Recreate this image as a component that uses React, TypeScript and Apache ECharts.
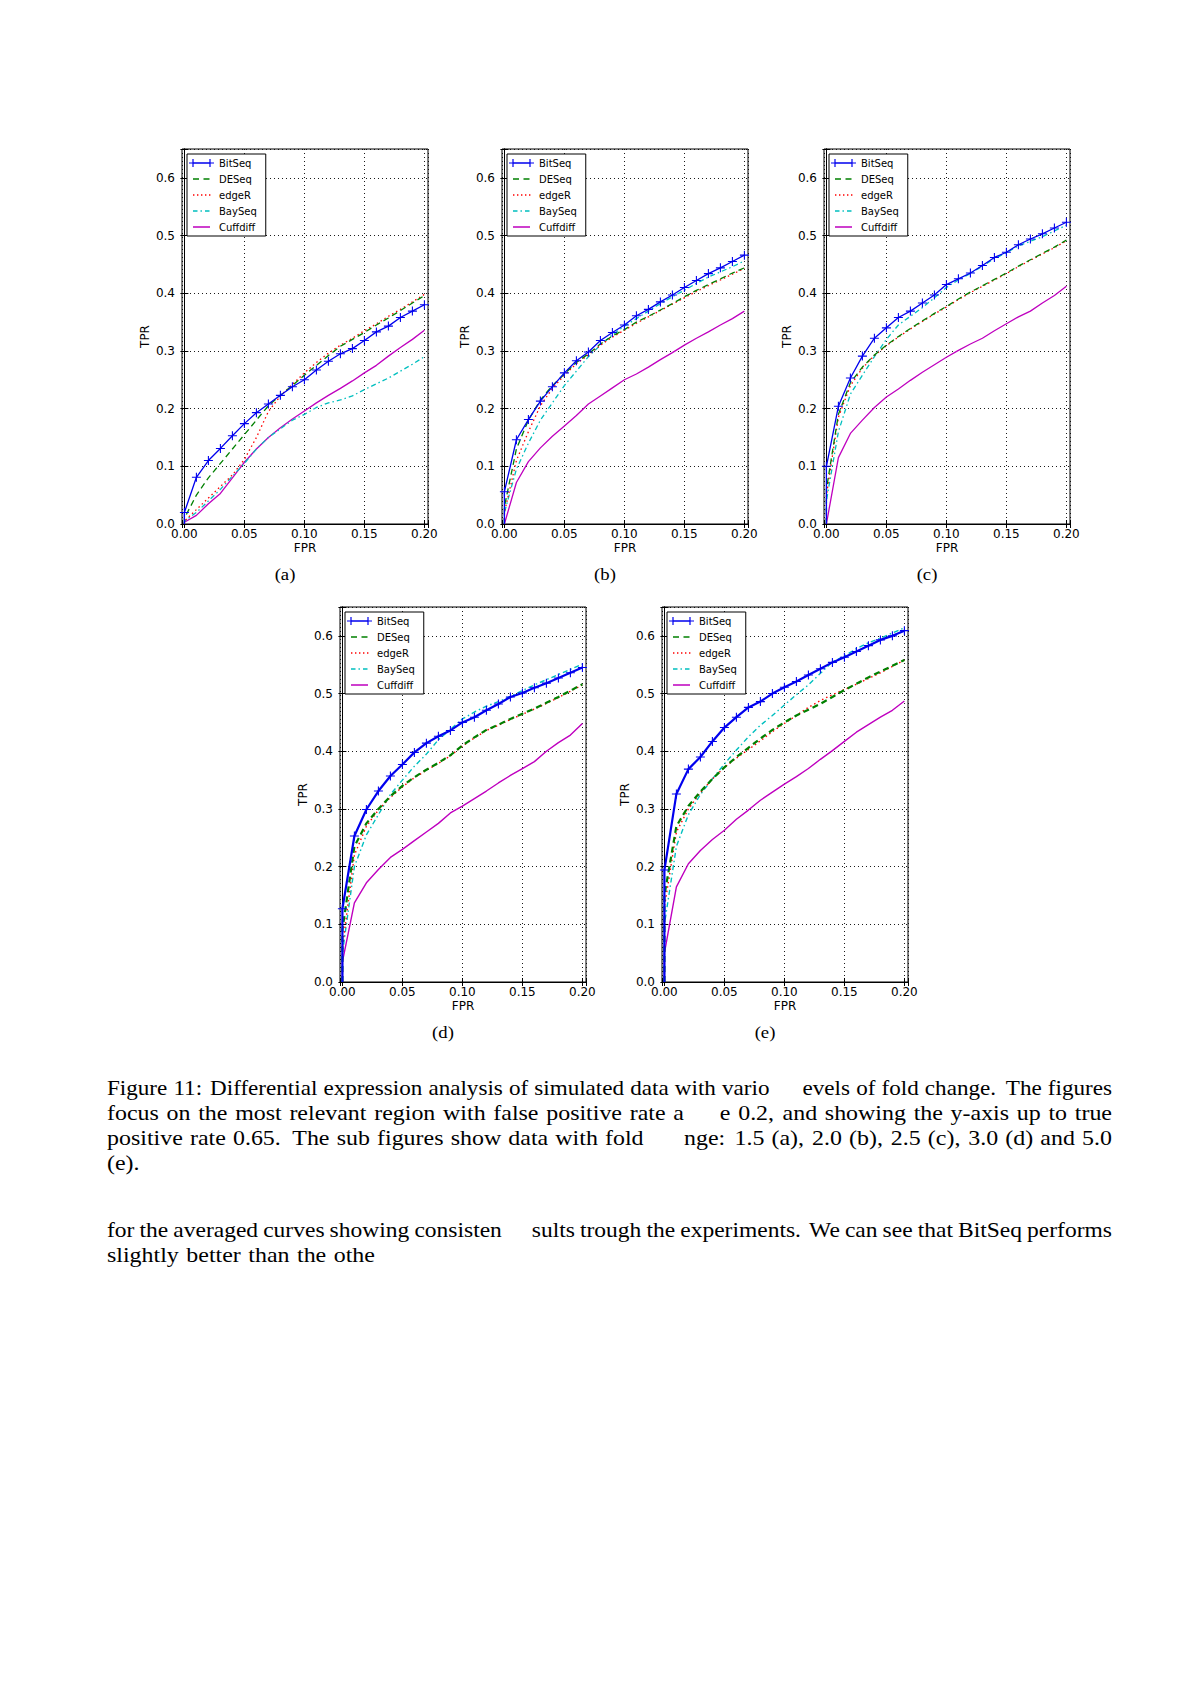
import React, { useEffect, useRef } from "react";
import * as echarts from "echarts";

// ---------- data ----------
const SERIES_NAMES = ["BitSeq", "DESeq", "edgeR", "BaySeq", "Cuffdiff"];
const FPR = [0, 0.01, 0.02, 0.03, 0.04, 0.05, 0.06, 0.07, 0.08, 0.09, 0.1, 0.11, 0.12, 0.13, 0.14, 0.15, 0.16, 0.17, 0.18, 0.19, 0.2];
const X_TICKS = [0, 0.05, 0.1, 0.15, 0.2];
const Y_TICKS = [0, 0.1, 0.2, 0.3, 0.4, 0.5, 0.6];

// (a) fold change 1.5
const A_BitSeq = [0.020, 0.081, 0.110, 0.131, 0.153, 0.174, 0.193, 0.208, 0.223, 0.238, 0.250, 0.267, 0.282, 0.295, 0.304, 0.318, 0.333, 0.343, 0.358, 0.369, 0.380];
const A_DESeq = [0.010, 0.050, 0.080, 0.105, 0.130, 0.155, 0.180, 0.205, 0.223, 0.240, 0.258, 0.275, 0.292, 0.308, 0.320, 0.332, 0.345, 0.357, 0.370, 0.383, 0.396];
const A_edgeR = [0.005, 0.025, 0.045, 0.065, 0.085, 0.112, 0.150, 0.195, 0.222, 0.242, 0.262, 0.280, 0.296, 0.310, 0.322, 0.335, 0.347, 0.360, 0.372, 0.385, 0.398];
const A_BaySeq = [0.005, 0.020, 0.040, 0.060, 0.083, 0.105, 0.130, 0.150, 0.165, 0.180, 0.190, 0.202, 0.210, 0.215, 0.222, 0.233, 0.243, 0.253, 0.265, 0.277, 0.290];
const A_Cuffdiff = [0.003, 0.015, 0.035, 0.053, 0.080, 0.107, 0.130, 0.150, 0.167, 0.182, 0.196, 0.210, 0.223, 0.235, 0.248, 0.262, 0.275, 0.291, 0.306, 0.320, 0.336];

// (b) fold change 2.0
const B_BitSeq = [0.056, 0.146, 0.181, 0.213, 0.238, 0.262, 0.283, 0.298, 0.318, 0.332, 0.345, 0.361, 0.372, 0.385, 0.397, 0.410, 0.422, 0.434, 0.444, 0.455, 0.466];
const B_DESeq = [0.030, 0.130, 0.180, 0.215, 0.240, 0.260, 0.280, 0.295, 0.312, 0.326, 0.337, 0.350, 0.360, 0.371, 0.382, 0.394, 0.405, 0.415, 0.425, 0.435, 0.444];
const B_edgeR = [0.020, 0.110, 0.160, 0.205, 0.235, 0.258, 0.278, 0.293, 0.310, 0.324, 0.336, 0.348, 0.359, 0.370, 0.381, 0.392, 0.403, 0.413, 0.423, 0.433, 0.443];
const B_BaySeq = [0.020, 0.095, 0.140, 0.180, 0.210, 0.240, 0.265, 0.290, 0.310, 0.328, 0.343, 0.356, 0.369, 0.382, 0.394, 0.405, 0.417, 0.428, 0.437, 0.446, 0.456];
const B_Cuffdiff = [0.000, 0.072, 0.108, 0.132, 0.152, 0.170, 0.188, 0.208, 0.222, 0.236, 0.250, 0.260, 0.272, 0.285, 0.297, 0.310, 0.322, 0.333, 0.345, 0.356, 0.369];

// (c) fold change 2.5
const C_BitSeq = [0.100, 0.204, 0.253, 0.291, 0.322, 0.340, 0.358, 0.369, 0.383, 0.397, 0.415, 0.425, 0.435, 0.448, 0.462, 0.471, 0.484, 0.494, 0.503, 0.513, 0.523];
const C_DESeq = [0.060, 0.190, 0.245, 0.272, 0.293, 0.310, 0.325, 0.339, 0.352, 0.365, 0.377, 0.390, 0.402, 0.413, 0.424, 0.435, 0.447, 0.458, 0.469, 0.480, 0.492];
const C_edgeR = [0.050, 0.185, 0.240, 0.270, 0.292, 0.309, 0.324, 0.338, 0.351, 0.364, 0.376, 0.389, 0.401, 0.412, 0.423, 0.434, 0.446, 0.457, 0.468, 0.479, 0.491];
const C_BaySeq = [0.040, 0.160, 0.225, 0.258, 0.290, 0.320, 0.345, 0.360, 0.375, 0.392, 0.410, 0.423, 0.434, 0.447, 0.460, 0.470, 0.482, 0.490, 0.498, 0.508, 0.518];
const C_Cuffdiff = [0.000, 0.115, 0.157, 0.180, 0.202, 0.220, 0.234, 0.249, 0.263, 0.276, 0.289, 0.301, 0.312, 0.322, 0.335, 0.347, 0.359, 0.369, 0.383, 0.396, 0.412];

// (d) fold change 3.0
const D_BitSeq = [0.127, 0.253, 0.299, 0.331, 0.357, 0.377, 0.398, 0.414, 0.426, 0.436, 0.450, 0.459, 0.471, 0.482, 0.494, 0.501, 0.510, 0.518, 0.527, 0.536, 0.545];
const D_DESeq = [0.090, 0.235, 0.275, 0.300, 0.322, 0.340, 0.355, 0.368, 0.380, 0.393, 0.410, 0.424, 0.437, 0.446, 0.456, 0.465, 0.474, 0.484, 0.494, 0.505, 0.516];
const D_edgeR = [0.060, 0.220, 0.270, 0.298, 0.320, 0.338, 0.354, 0.367, 0.379, 0.392, 0.409, 0.423, 0.436, 0.445, 0.455, 0.464, 0.473, 0.483, 0.493, 0.504, 0.515];
const D_BaySeq = [0.050, 0.200, 0.255, 0.290, 0.325, 0.350, 0.374, 0.395, 0.420, 0.438, 0.456, 0.468, 0.478, 0.486, 0.495, 0.505, 0.515, 0.524, 0.533, 0.542, 0.551];
const D_Cuffdiff = [0.035, 0.137, 0.172, 0.195, 0.216, 0.230, 0.245, 0.260, 0.275, 0.293, 0.305, 0.318, 0.331, 0.345, 0.358, 0.370, 0.382, 0.400, 0.415, 0.428, 0.448];

// (e) fold change 5.0
const E_BitSeq = [0.194, 0.326, 0.369, 0.390, 0.417, 0.441, 0.459, 0.476, 0.486, 0.500, 0.511, 0.521, 0.532, 0.543, 0.554, 0.563, 0.573, 0.583, 0.593, 0.600, 0.609];
const E_DESeq = [0.150, 0.270, 0.305, 0.330, 0.352, 0.372, 0.390, 0.406, 0.422, 0.437, 0.450, 0.462, 0.472, 0.482, 0.494, 0.506, 0.517, 0.528, 0.538, 0.548, 0.558];
const E_edgeR = [0.130, 0.260, 0.300, 0.328, 0.352, 0.372, 0.388, 0.403, 0.418, 0.434, 0.448, 0.462, 0.476, 0.488, 0.498, 0.507, 0.516, 0.526, 0.536, 0.547, 0.558];
const E_BaySeq = [0.100, 0.235, 0.290, 0.325, 0.352, 0.378, 0.402, 0.425, 0.445, 0.462, 0.480, 0.498, 0.515, 0.535, 0.555, 0.565, 0.578, 0.588, 0.596, 0.605, 0.614];
const E_Cuffdiff = [0.050, 0.165, 0.205, 0.228, 0.247, 0.263, 0.282, 0.298, 0.315, 0.329, 0.343, 0.356, 0.370, 0.386, 0.401, 0.417, 0.433, 0.446, 0.459, 0.471, 0.487];

const PANEL_LABELS = ["(a)", "(b)", "(c)", "(d)", "(e)"];
const PANEL_DATA = [
  [A_BitSeq, A_DESeq, A_edgeR, A_BaySeq, A_Cuffdiff],
  [B_BitSeq, B_DESeq, B_edgeR, B_BaySeq, B_Cuffdiff],
  [C_BitSeq, C_DESeq, C_edgeR, C_BaySeq, C_Cuffdiff],
  [D_BitSeq, D_DESeq, D_edgeR, D_BaySeq, D_Cuffdiff],
  [E_BitSeq, E_DESeq, E_edgeR, E_BaySeq, E_Cuffdiff],
];

// Caption text; parts in [brackets] are blanked out in the page (only their space is kept)
const CAPTION_LINES = [
  "Figure 11: Differential expression analysis of simulated data with vario[us l]evels of fold change. The figures",
  "focus on the most relevant region with false positive rate a[bov]e 0.2, and showing the y-axis up to true",
  "positive rate 0.65. The sub figures show data with fold [cha]nge: 1.5 (a), 2.0 (b), 2.5 (c), 3.0 (d) and 5.0",
  "(e).",
];
const BODY_LINES = [
  "for the averaged curves showing consisten[t re]sults trough the experiments. We can see that BitSeq performs",
  "slightly better than the othe",
];

// ---------- layout & style ----------
const PANEL_POS = [
  { left: 182, top: 149 },
  { left: 502, top: 149 },
  { left: 824, top: 149 },
  { left: 340, top: 607 },
  { left: 662, top: 607 },
];
const PW = 246;
const PH = 375;
const X_MIN = -0.002;
const X_MAX = 0.203;
const Y_MIN = 0;
const Y_MAX = 0.65;

const PLUS = "path://M0,4.4H10V5.6H0Z M4.4,0H5.6V10H4.4Z";
const SANS = "'DejaVu Sans', sans-serif";
const SERIF_NAME = "Liberation Serif";
const CAP_SIZE = 21;
const CAPTION_SX = [1.1, 1.14, 1.14, 1.14];
const BODY_SX = [1.12, 1.14];

// legend icons: 25 x 12 box (tiny corner squares fix the box)
const BOX = "M0,0h0.01v0.01h-0.01Z M24.99,11.99h0.01v0.01h-0.01Z ";
const LEGEND_ICONS = [
  "path://" + BOX + "M4,5.35H21V6.65H4Z M0,5.4H8V6.6H0Z M3.4,2H4.6V10H3.4Z M17,5.4H25V6.6H17Z M20.4,2H21.6V10H20.4Z",
  "path://" + BOX + "M4,5.3H10V6.7H4Z M14.5,5.3H20.5V6.7H14.5Z",
  "path://" + BOX + "M4,5.3h1.4v1.4h-1.4Z M8,5.3h1.4v1.4h-1.4Z M12,5.3h1.4v1.4h-1.4Z M16,5.3h1.4v1.4h-1.4Z M20,5.3h1.4v1.4h-1.4Z",
  "path://" + BOX + "M4,5.3H8.5V6.7H4Z M11.5,5.3h1.4v1.4h-1.4Z M16,5.3H20.5V6.7H16Z",
  "path://" + BOX + "M4,5.35H21V6.65H4Z",
];

const STYLES = [
  { color: "#0000ee", type: "solid" as any },
  { color: "#008000", type: [6, 4] as any },
  { color: "#ff0000", type: [1.5, 3] as any },
  { color: "#00bfbf", type: [5, 3, 1.5, 3] as any },
  { color: "#bf00bf", type: "solid" as any },
];

// justified text layout, one text element per visible word part
function layoutLine(spec: string, x0: number, x1: number, y: number, justify: boolean, ctx: CanvasRenderingContext2D, font: string, sx: number) {
  const chars: { c: string; h: boolean }[] = [];
  let hidden = false;
  for (const ch of spec) {
    if (ch === "[") { hidden = true; continue; }
    if (ch === "]") { hidden = false; continue; }
    chars.push({ c: ch, h: hidden });
  }
  const words: { c: string; h: boolean }[][] = [];
  let cur: { c: string; h: boolean }[] = [];
  for (const o of chars) {
    if (o.c === " ") { if (cur.length) words.push(cur); cur = []; } else cur.push(o);
  }
  if (cur.length) words.push(cur);
  const str = (w: { c: string }[]) => w.map((o) => o.c).join("");
  const mw = (s: string) => ctx.measureText(s).width * sx;
  const widths = words.map((w) => mw(str(w)));
  const total = widths.reduce((a, b) => a + b, 0);
  const weightOf = (w: { c: string }[]) => {
    const last = w[w.length - 1].c;
    if (last === "." && str(w).length > 2) return 1.6;
    if (last === ":") return 1.3;
    if (last === ",") return 1.1;
    return 1;
  };
  let wsum = 0;
  for (let i = 0; i < words.length - 1; i++) wsum += weightOf(words[i]);
  const space = mw(" ") * 1.25;
  const unit = justify && wsum > 0 ? (x1 - x0 - total) / wsum : space;
  const out: any[] = [];
  let x = x0;
  words.forEach((w, i) => {
    let k = 0;
    while (k < w.length) {
      if (w[k].h) { k++; continue; }
      let j = k;
      while (j < w.length && !w[j].h) j++;
      const prefix = str(w.slice(0, k));
      const run = str(w.slice(k, j));
      out.push({
        type: "text",
        x: x + (prefix ? mw(prefix) : 0),
        y,
        scaleX: sx,
        silent: true,
        style: { text: run, font, fill: "#000", align: "left", verticalAlign: "middle", textAlign: "left", textVerticalAlign: "middle" },
      });
      k = j;
    }
    x += widths[i] + unit * (i < words.length - 1 ? weightOf(w) : 0);
  });
  return out;
}

function buildOption() {
  const grid: any[] = [];
  const xAxis: any[] = [];
  const yAxis: any[] = [];
  const series: any[] = [];
  const legend: any[] = [];
  const graphic: any[] = [];

  const tickCommon = { show: true, inside: true, length: 4, lineStyle: { color: "#000", width: 1 } };
  const lineCommon = { show: true, lineStyle: { color: "#000", width: 1 } };
  const splitCommon = { show: true, lineStyle: { color: "#000", width: 0.9, type: [1, 3] } };

  PANEL_POS.forEach((p, i) => {
    const thick = i >= 3;
    grid.push({ left: p.left, top: p.top, width: PW, height: PH, show: true, borderColor: "#000", borderWidth: 1 });
    xAxis.push({
      type: "value", gridIndex: i, position: "bottom", min: X_MIN, max: X_MAX,
      minInterval: 0.05, maxInterval: 0.05,
      axisLine: lineCommon, axisTick: tickCommon, splitLine: splitCommon,
      axisLabel: {
        color: "#000", fontSize: 12, fontFamily: SANS, margin: 4,
        formatter: (v: number) => (X_TICKS.some((t) => Math.abs(t - v) < 1e-6) ? v.toFixed(2) : ""),
      },
      name: "FPR", nameLocation: "middle", nameGap: 18,
      nameTextStyle: { color: "#000", fontSize: 12, fontFamily: SANS },
    });
    xAxis.push({
      type: "value", gridIndex: i, position: "top", min: X_MIN, max: X_MAX,
      minInterval: 0.05, maxInterval: 0.05,
      axisLine: lineCommon, axisTick: tickCommon, splitLine: { show: false }, axisLabel: { show: false },
    });
    yAxis.push({
      type: "value", gridIndex: i, position: "left", min: Y_MIN, max: Y_MAX, interval: 0.1,
      axisLine: lineCommon, axisTick: tickCommon, splitLine: splitCommon,
      axisLabel: {
        color: "#000", fontSize: 12, fontFamily: SANS, margin: 7,
        formatter: (v: number) => (Y_TICKS.some((t) => Math.abs(t - v) < 1e-6) ? v.toFixed(1) : ""),
      },
      name: "TPR", nameLocation: "middle", nameGap: 31,
      nameTextStyle: { color: "#000", fontSize: 12, fontFamily: SANS },
    });
    yAxis.push({
      type: "value", gridIndex: i, position: "right", min: Y_MIN, max: Y_MAX, interval: 0.1,
      axisLine: lineCommon, axisTick: tickCommon, splitLine: { show: false }, axisLabel: { show: false },
    });

    PANEL_DATA[i].forEach((vals, s) => {
      const st = STYLES[s];
      const pts: any[] = [{ value: [0, 0], symbol: "none" }];
      FPR.forEach((x, k) => pts.push([x, vals[k]]));
      const width = thick && s <= 1 ? 2.2 : thick ? 1.4 : 1.3;
      series.push({
        type: "line",
        name: SERIES_NAMES[s],
        xAxisIndex: 2 * i,
        yAxisIndex: 2 * i,
        data: pts,
        symbol: s === 0 ? PLUS : "none",
        symbolSize: 9,
        showSymbol: s === 0,
        itemStyle: { color: st.color, borderWidth: 0 },
        lineStyle: { color: st.color, width, type: st.type },
        emphasis: { disabled: true },
        silent: true,
        z: 3 + (4 - s),
      });
    });

    legend.push({
      data: SERIES_NAMES.map((n, s) => ({ name: n, icon: LEGEND_ICONS[s] })),
      orient: "vertical",
      left: p.left + 5,
      top: p.top + 5,
      padding: [3, 9, 3, 2],
      itemGap: 4,
      itemWidth: 25,
      itemHeight: 12,
      borderColor: "#000",
      borderWidth: 1,
      borderRadius: 0,
      backgroundColor: "#fff",
      selectedMode: false,
      itemStyle: { borderWidth: 0 },
      textStyle: { color: "#000", fontSize: 10, fontFamily: SANS },
    });

    graphic.push({
      type: "text",
      x: p.left + PW / 2 - 20,
      y: p.top + PH + 50,
      scaleX: 1.1,
      silent: true,
      style: {
        text: PANEL_LABELS[i], font: `17px "${SERIF_NAME}", serif`, fill: "#000",
        align: "center", verticalAlign: "middle", textAlign: "center", textVerticalAlign: "middle",
      },
    });
  });

  const canvas = document.createElement("canvas");
  const ctx = canvas.getContext("2d") as CanvasRenderingContext2D;
  const font = `${CAP_SIZE}px "${SERIF_NAME}", serif`;
  ctx.font = font;
  const lineY = [1088, 1113, 1138, 1163];
  CAPTION_LINES.forEach((l, k) => {
    graphic.push(...layoutLine(l, 107, 1112, lineY[k], k < 3, ctx, font, CAPTION_SX[k]));
  });
  const bodyY = [1230, 1255];
  BODY_LINES.forEach((l, k) => {
    graphic.push(...layoutLine(l, 107, 1112, bodyY[k], k === 0, ctx, font, BODY_SX[k]));
  });

  return {
    animation: false,
    backgroundColor: "#fff",
    grid, xAxis, yAxis, series, legend, graphic,
  };
}

export default function App() {
  const ref = useRef<HTMLDivElement>(null);
  useEffect(() => {
    if (!ref.current) return;
    const chart = echarts.init(ref.current, undefined, { renderer: "svg" });
    chart.setOption(buildOption() as any);
    return () => chart.dispose();
  }, []);
  return (
    <div
      ref={ref}
      style={{ position: "absolute", left: 0, top: 0, width: 1191, height: 1685, background: "#fff" }}
    />
  );
}
